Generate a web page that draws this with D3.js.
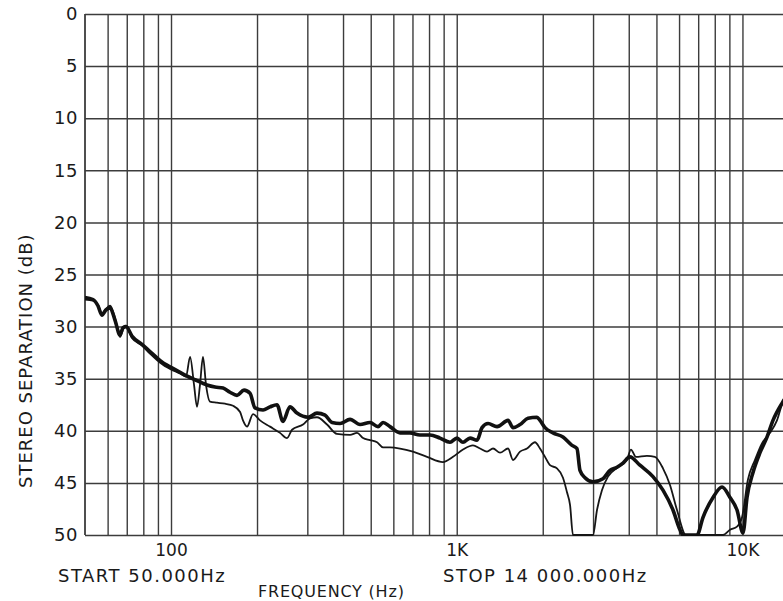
<!DOCTYPE html>
<html>
<head>
<meta charset="utf-8">
<script src="https://cdn.jsdelivr.net/npm/d3@7"></script>
<style>
  html, body { margin: 0; padding: 0; background: #fff; }
  svg { display: block; }
  text { font-family: "DejaVu Sans", sans-serif; fill: #1a1a1a; }
</style>
</head>
<body>
<svg id="chart" width="783" height="601"></svg>
<script>
// ---------- data ----------
const dbTicks = [0, 5, 10, 15, 20, 25, 30, 35, 40, 45, 50];
const freqGrid = [60, 70, 80, 90, 100, 200, 300, 400, 500, 600, 700, 800, 900, 1000,
                  2000, 3000, 4000, 5000, 6000, 7000, 8000, 9000, 10000];
const freqLabelValues = [100, 1000, 10000];
const freqLabelTexts = ["100", "1K", "10K"];

// thick trace
const freqA = [50, 53.3, 55.5, 57.3, 59.2, 61.2, 63.7, 66.3, 67.9, 69.6, 73, 79.1, 84.4, 89.3, 95.3, 100,
  107.6, 112.9, 121.3, 133.6, 142.6, 152.1, 160.9, 170.2, 180.1, 189, 196.8, 209.9, 222.1, 234.9,
  246.5, 260.8, 276, 301.6, 324.3, 346, 366.1, 390.5, 423.2, 458.7, 497.1, 530.3, 552.1, 583.9,
  633, 686, 743.7, 806.1, 873.8, 947.2, 1001.7, 1051.8, 1113, 1177.7, 1226.1, 1286.9, 1383.6,
  1511.9, 1574.1, 1665.4, 1776.3, 1909.6, 1956.3, 2036.8, 2171.9, 2354.4, 2531.5, 2635.6, 2700,
  2811.6, 2998.7, 3249, 3438, 3637, 3816, 4037, 4376, 4862, 5270, 5713, 6044, 6192, 6934, 7278,
  7889, 8482, 9047, 9571, 10045, 10374, 10887, 11519, 12187, 12790, 13862, 14000];
const dbA = [27.2, 27.4, 28.0, 28.9, 28.4, 28.2, 29.4, 30.8, 30.1, 30.0, 30.9, 31.7, 32.4, 33.0, 33.6, 33.9,
  34.4, 34.7, 35.1, 35.6, 35.8, 35.9, 36.3, 36.6, 36.1, 36.4, 37.8, 38.0, 37.7, 37.5,
  39.1, 37.7, 38.3, 38.7, 38.3, 38.5, 39.2, 39.3, 38.9, 39.4, 39.2, 39.6, 39.2, 39.6,
  40.2, 40.2, 40.4, 40.4, 40.7, 41.1, 40.7, 41.1, 40.7, 40.9, 39.7, 39.3, 39.6,
  39.0, 39.7, 39.4, 38.8, 38.7, 39.0, 39.7, 40.2, 40.6, 41.4, 41.7, 43.8,
  44.5, 44.9, 44.6, 43.8, 43.5, 43.1, 42.5, 43.3, 44.4, 45.7, 47.6, 49.5, 50, 50, 48.3,
  46.4, 45.4, 46.4, 47.6, 49.8, 46.4, 44.0, 42.1, 40.6, 39.0, 37.2, 37.0];

// thin trace
const freqB = [50, 53.3, 55.5, 57.3, 59.2, 61.2, 63.7, 66.3, 67.9, 69.6, 73, 79.1, 84.4, 89.3, 95.3, 100,
  107.6, 112.9, 116.6, 120.4, 123.3, 126.3, 129.4, 132.6, 136.9, 144.9, 154.5, 164.9, 174.5, 178.6,
  184.5, 193.7, 204.9, 222.1, 240.7, 254.7, 265.2, 289.7, 306.6, 324.3, 351.6, 380.8, 423.2, 447.8,
  470, 497.1, 526.1, 552.1, 583.9, 633, 703.1, 786.9, 895.1, 970.5, 1051.8, 1140, 1206.6, 1276.6,
  1340, 1418, 1511.9, 1574.1, 1665.4, 1762, 1879, 1956.3, 2036.8, 2120, 2243, 2354.4, 2432, 2492,
  2552, 2998.7, 3097, 3223, 3383, 3667, 3941, 4070, 4237, 4630, 4937, 5270, 5577, 5901, 6345,
  8550, 9047, 9571, 9966, 10449, 11058, 11705, 12483, 13208, 13862, 14000];
const dbB = [27.4, 27.5, 27.9, 28.7, 28.3, 28.0, 29.2, 31.0, 30.3, 29.9, 31.1, 31.8, 32.6, 33.2, 33.8, 34.1,
  34.5, 34.8, 32.9, 35.6, 37.7, 35.6, 32.9, 35.6, 37.2, 37.3, 37.4, 37.6, 38.2, 39.0,
  39.6, 38.4, 39.0, 39.6, 40.2, 40.7, 39.9, 39.4, 38.8, 38.7, 39.4, 40.3, 40.4, 40.2,
  40.7, 40.9, 41.1, 41.6, 41.6, 41.7, 42.0, 42.5, 43.0, 42.5, 41.8, 41.4, 41.7, 42.0,
  41.7, 42.1, 41.7, 42.8, 42.0, 41.7, 41.1, 41.7, 42.5, 43.3, 43.6, 44.5, 45.9, 47.1,
  50, 50, 47.6, 45.7, 44.4, 43.5, 42.8, 41.8, 42.5, 42.4, 42.5, 43.6, 45.2, 47.6, 50,
  50, 49.5, 49.2, 48.3, 44.7, 42.8, 41.2, 40.2, 39.0, 37.2, 37.0];

// ---------- layout ----------
const svg = d3.select("#chart");
const mLeft = 85, mTop = 14, mBottom = 535, mRight = 784.2;

const x = d3.scaleLog().domain([50, 14000]).range([mLeft, mRight]);
const y = d3.scaleLinear().domain([0, 50]).range([mTop, mBottom]);

const gridColor = "#3c3c3c";

// vertical grid
const xGrid = svg.append("g")
  .attr("transform", `translate(0,${mBottom})`)
  .call(d3.axisBottom(x).tickValues(freqGrid).tickSize(-(mBottom - mTop)).tickFormat(""));
xGrid.select(".domain").remove();
xGrid.selectAll(".tick line").attr("stroke", gridColor).attr("stroke-width", 1.4);

// horizontal grid + y labels
const yAxis = svg.append("g")
  .attr("transform", `translate(${mLeft},0)`)
  .call(d3.axisLeft(y).tickValues(dbTicks).tickSize(-(mRight - mLeft)).tickPadding(7).tickFormat(d3.format("d")));
yAxis.select(".domain").remove();
yAxis.selectAll(".tick line").attr("stroke", gridColor).attr("stroke-width", 1.5);
yAxis.selectAll(".tick text")
  .style("font-family", "'DejaVu Sans', sans-serif")
  .style("font-size", "18px")
  .style("letter-spacing", "0.5px")
  .attr("fill", "#1a1a1a");

// frame (left edge)
svg.append("line")
  .attr("x1", x(50)).attr("x2", x(50)).attr("y1", y(0)).attr("y2", y(50))
  .attr("stroke", gridColor).attr("stroke-width", 1.8);

// x labels
const xLab = svg.append("g")
  .attr("transform", `translate(0,${mBottom})`)
  .call(d3.axisBottom(x).tickValues(freqLabelValues).tickSize(0).tickPadding(9)
        .tickFormat((d, i) => freqLabelTexts[i]));
xLab.select(".domain").remove();
xLab.selectAll(".tick text")
  .style("font-family", "'DejaVu Sans', sans-serif")
  .style("font-size", "17px")
  .attr("fill", "#1a1a1a");

// clip
svg.append("clipPath").attr("id", "plotclip")
  .append("rect").attr("x", mLeft).attr("y", mTop - 2).attr("width", mRight - mLeft).attr("height", mBottom - mTop + 3);

const line = d3.line()
  .x(d => x(d[0]))
  .y(d => y(Math.min(50, d[1])))
  .curve(d3.curveMonotoneX);

const dataA = freqA.map((f, i) => [f, dbA[i]]);
const dataB = freqB.map((f, i) => [f, dbB[i]]);

const traces = svg.append("g").attr("clip-path", "url(#plotclip)");
traces.append("path").datum(dataB)
  .attr("d", line).attr("fill", "none").attr("stroke", "#161616")
  .attr("stroke-width", 1.8).attr("stroke-linejoin", "round");
traces.append("path").datum(dataA)
  .attr("d", line).attr("fill", "none").attr("stroke", "#111")
  .attr("stroke-width", 3.6).attr("stroke-linejoin", "round");

// texts
svg.append("text")
  .attr("transform", `translate(32,488) rotate(-90)`)
  .attr("text-anchor", "start")
  .style("font-size", "18px")
  .style("letter-spacing", "1px")
  .text("STEREO SEPARATION (dB)");

svg.append("text")
  .attr("x", 58).attr("y", 582)
  .style("font-size", "18px")
  .style("letter-spacing", "1.5px")
  .text("START 50.000Hz");

svg.append("text")
  .attr("x", 443).attr("y", 582)
  .style("font-size", "18px")
  .style("letter-spacing", "1.5px")
  .text("STOP 14 000.000Hz");

svg.append("text")
  .attr("x", 258).attr("y", 597)
  .style("font-size", "16px")
  .style("letter-spacing", "0.8px")
  .text("FREQUENCY (Hz)");
</script>
</body>
</html>
